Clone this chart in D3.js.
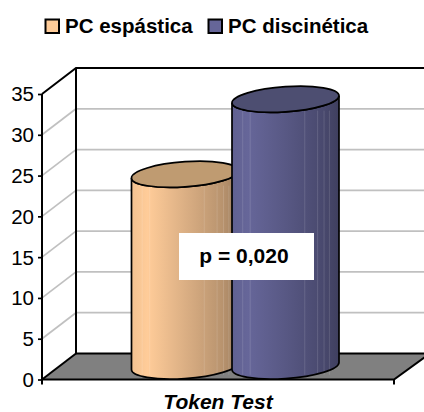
<!DOCTYPE html>
<html><head><meta charset="utf-8">
<script src="https://cdn.jsdelivr.net/npm/d3@7"></script>
<style>html,body{margin:0;padding:0;background:#fff}svg{display:block}text{font-family:"Liberation Sans",Arial,sans-serif}</style>
</head><body><div id="c"></div>
<script>
const seriesNames = ["PC espástica", "PC discinética"];
const seriesValues = [23.5, 32.7];
const seriesColors = ["#FFCC99", "#666699"];
const yTicks = [0, 5, 10, 15, 20, 25, 30, 35];
const categoryLabel = "Token Test";
const annotation = "p = 0,020";

const W = 424, H = 412;
const svg = d3.select("#c").append("svg").attr("width", W).attr("height", H);
const y = d3.scaleLinear().domain([0, 35]).range([379.5, 94]);
const x0 = 42, x1 = 394, dx = 34, dy = -26;
const xc = d3.scalePoint().domain(seriesNames).range([185, 285.5]);
const rx = 53.5, ry = 12.6, skew = 3.6, midDy = dy / 2 - 0.5;
const K = 0.5523;

const defs = svg.append("defs");
seriesColors.forEach((c, i) => {
  const g = defs.append("linearGradient").attr("id", "g" + i);
  const base = d3.color(c);
  [[0, 0.95], [0.15, 1], [0.5, 0.86], [0.85, 0.72], [1, 0.62]].forEach(([o, k]) => {
    g.append("stop").attr("offset", o)
      .attr("stop-color", d3.rgb(base.r * k, base.g * k, base.b * k).formatHex());
  });
});

yTicks.slice(1, -1).forEach(t => {
  svg.append("line").attr("x1", x0).attr("x2", x0 + dx).attr("y1", y(t)).attr("y2", y(t) + dy)
    .attr("stroke", "#c0c0c0").attr("stroke-width", 1.7);
  svg.append("line").attr("x1", x0 + dx).attr("x2", W).attr("y1", y(t) + dy).attr("y2", y(t) + dy)
    .attr("stroke", "#c0c0c0").attr("stroke-width", 1.7);
});

svg.append("path")
  .attr("d", `M${x0},${y(0)}L${x0 + dx},${y(0) + dy}L${W + 6},${y(0) + dy}L${x1},${y(0)}Z`)
  .attr("fill", "#808080");

const frame = svg.append("g").attr("fill", "none").attr("stroke", "#000").attr("stroke-width", 2);
frame.append("path").attr("d", `M${x0},${y(35)}L${x0 + dx},${y(35) + dy}L${W},${y(35) + dy}`);
frame.append("path").attr("d", `M${x0 + dx},${y(35) + dy}L${x0 + dx},${y(0) + dy}L${W},${y(0) + dy}`);
frame.append("path").attr("d", `M${x0},${y(0)}L${x0 + dx},${y(0) + dy}`);
frame.append("path").attr("d", `M${x0},${y(0)}L${x1},${y(0)}L${W + 6},${y(0) + dy}`);
frame.append("path").attr("d", `M${x1},${y(0)}v5`);

const axis = svg.append("g").attr("transform", `translate(${x0},0)`)
  .call(d3.axisLeft(y).tickValues(yTicks).tickSize(4).tickPadding(4).tickFormat(d3.format("d")));
axis.selectAll("path").attr("stroke", "#000").attr("stroke-width", 2).attr("d", `M0,${y(35)}V${y(0) + 5}`);
axis.selectAll("line").attr("stroke", "#000").attr("stroke-width", 1.7);
axis.selectAll("text").attr("font-size", 20.5).attr("fill", "#000").attr("dy", "0.34em")
  .attr("font-family", '"Liberation Sans",Arial,sans-serif');

function arcFront(cx, cy) {
  return `C${cx - rx},${cy + skew + ry * K} ${cx - rx * K},${cy + skew * K + ry} ${cx},${cy + ry}` +
         `C${cx + rx * K},${cy - skew * K + ry} ${cx + rx},${cy - skew + ry * K} ${cx + rx},${cy - skew}`;
}
function arcBack(cx, cy) {
  return `C${cx + rx},${cy - skew - ry * K} ${cx + rx * K},${cy - skew * K - ry} ${cx},${cy - ry}` +
         `C${cx - rx * K},${cy + skew * K - ry} ${cx - rx},${cy + skew - ry * K} ${cx - rx},${cy + skew}`;
}
const facets = [0.1, 0.17, 0.68, 0.8, 0.86, 0.91];
const bars = svg.selectAll("g.bar").data(seriesNames).join("g").attr("class", "bar");
bars.each(function (name, i) {
  const g = d3.select(this), v = seriesValues[i], cx = xc(name);
  const baseY = y(0) + midDy, topY = y(v) + midDy;
  const body = `M${cx - rx},${topY + skew}` + arcFront(cx, topY) +
    `L${cx + rx},${baseY - skew}` +
    `C${cx + rx},${baseY - skew + ry * K} ${cx + rx * K},${baseY - skew * K + ry} ${cx},${baseY + ry}` +
    `C${cx - rx * K},${baseY + skew * K + ry} ${cx - rx},${baseY + skew + ry * K} ${cx - rx},${baseY + skew}Z`;
  g.append("path").attr("d", body).attr("fill", `url(#g${i})`);
  facets.forEach(f => {
    const px = cx - rx + f * 2 * rx;
    g.append("line").attr("x1", px).attr("x2", px)
      .attr("y1", topY + ry * 0.9).attr("y2", baseY + ry * 0.7)
      .attr("stroke", "#fff").attr("stroke-opacity", 0.13).attr("stroke-width", 1);
  });
  g.append("path").attr("d", body).attr("fill", "none").attr("stroke", "#000").attr("stroke-width", 1.7);
  const c = d3.color(seriesColors[i]);
  g.append("path")
    .attr("d", `M${cx - rx},${topY + skew}` + arcFront(cx, topY) + arcBack(cx, topY) + "Z")
    .attr("fill", d3.rgb(c.r * 0.75, c.g * 0.76, c.b * 0.74).formatHex())
    .attr("stroke", "#000").attr("stroke-width", 1.7);
});

svg.append("rect").attr("x", 179).attr("y", 233).attr("width", 135).attr("height", 47).attr("fill", "#fff");
svg.append("text").attr("x", 244).attr("y", 263).attr("text-anchor", "middle")
  .attr("font-size", 21).attr("font-weight", 700).text(annotation);

svg.append("text").attr("x", 218).attr("y", 409).attr("text-anchor", "middle")
  .attr("font-size", 21).attr("font-weight", 700).attr("font-style", "italic").text(categoryLabel);

const legendX = [45.5, 208.5], legendTextX = [65, 228];
seriesNames.forEach((n, i) => {
  svg.append("rect").attr("x", legendX[i]).attr("y", 19.5).attr("width", 13.5).attr("height", 13.5)
    .attr("fill", seriesColors[i]).attr("stroke", "#000").attr("stroke-width", 2);
  svg.append("text").attr("x", legendTextX[i]).attr("y", 33)
    .attr("font-size", 20.5).attr("font-weight", 700).text(n);
});
</script></body></html>
